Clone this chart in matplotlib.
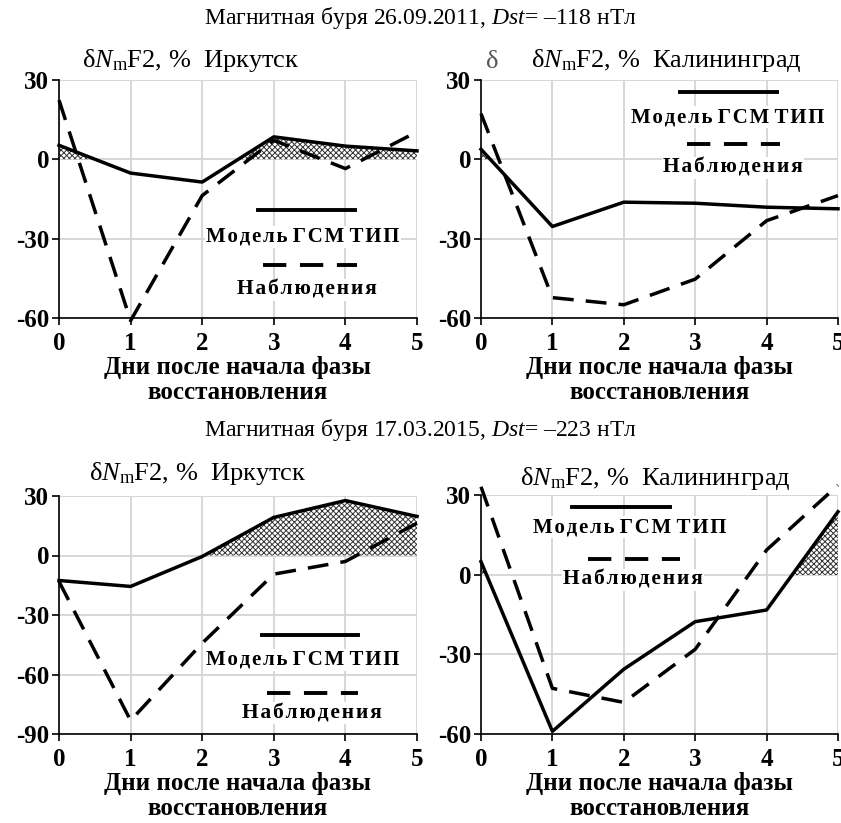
import matplotlib
matplotlib.use("Agg")
import matplotlib.pyplot as plt
import numpy as np
from matplotlib.lines import Line2D

plt.rcParams['font.family'] = ['Liberation Serif', 'DejaVu Serif']
plt.rcParams['mathtext.fontset'] = 'custom'
plt.rcParams['mathtext.rm'] = 'Liberation Serif'
plt.rcParams['mathtext.it'] = 'Liberation Serif:italic'
plt.rcParams['mathtext.bf'] = 'Liberation Serif:bold'
plt.rcParams['axes.unicode_minus'] = False
plt.rcParams['hatch.linewidth'] = 0.7
plt.rcParams['hatch.color'] = '#333333'

days = [0, 1, 2, 3, 4, 5]

# 26.09.2011
irk_2011_model = [5.3, -5.2, -8.6, 8.5, 5.0, 3.2]
irk_2011_obs = [22.4, -61.0, -13.7, 7.2, -3.5, 10.4]
kal_2011_model = [3.8, -25.4, -16.2, -16.6, -18.1, -18.7]
kal_2011_obs = [17.3, -52.3, -55.0, -45.3, -23.2, -13.7]
# 17.03.2015
irk_2015_model = [-12.6, -15.6, -0.5, 19.2, 27.7, 19.7]
irk_2015_obs = [-13.1, -83.2, -44.2, -9.4, -3.0, 16.3]
kal_2015_model = [4.9, -59.0, -35.6, -17.7, -13.3, 23.7]
kal_2015_obs = [33.1, -42.8, -48.1, -28.1, 9.3, 33.7]

W, H = 841, 823
fig = plt.figure(figsize=(W / 100, H / 100), dpi=100)

def fx(x):
    return x / W

def fy(y):
    return 1 - y / H

def spaced(s):
    hs = "\u200a"
    return " ".join(hs.join(list(w)) for w in s.split(" "))

station_title = r"δ$\mathit{N}_{\mathrm{m}}$F2, %  "
xlabel = "Дни после начала фазы\nвосстановления"
dash = (0, (6, 3.5))

panels = [
    dict(box=(59, 80, 417, 318), model=irk_2011_model, obs=irk_2011_obs,
         yt=[-60, -30, 0, 30], name="Иркутск", title_xy=(191, 61),
         leg=(258, 355, 210, 303, 237, 263, 357, 265, 307, 290)),
    dict(box=(481, 80, 838, 318), model=kal_2011_model, obs=kal_2011_obs,
         yt=[-60, -30, 0, 30], name="Калининград", title_xy=(666, 61),
         leg=(680, 777, 92, 728, 117, 687, 780, 144, 733, 168)),
    dict(box=(59, 496, 417, 734), model=irk_2015_model, obs=irk_2015_obs,
         yt=[-90, -60, -30, 0, 30], name="Иркутск", title_xy=(198, 474),
         leg=(262, 358, 635, 303, 660, 267, 358, 693, 312, 713)),
    dict(box=(481, 495, 838, 734), model=kal_2015_model, obs=kal_2015_obs,
         yt=[-60, -30, 0, 30], name="Калининград", title_xy=(655, 479),
         leg=(572, 670, 507, 630, 527, 588, 680, 559, 633, 580)),
]

for p in panels:
    x0, y0, x1, y1 = p['box']
    ax = fig.add_axes([fx(x0), fy(y1), fx(x1) - fx(x0), fy(y0) - fy(y1)])
    ax.set_xlim(0, 5)
    ax.set_ylim(p['yt'][0], p['yt'][-1])
    ax.set_xticks(days)
    ax.set_yticks(p['yt'])
    ax.grid(True, color='#d4d4d4', linewidth=1.3)
    ax.set_axisbelow(True)
    for s in ['top', 'right']:
        ax.spines[s].set_visible(False)
    for s in ['left', 'bottom']:
        ax.spines[s].set_linewidth(1.2)
    ax.tick_params(axis='both', direction='out', length=5, width=1.2,
                   labelsize=18)
    ax.tick_params(axis='x', pad=5)
    ax.tick_params(axis='y', pad=2)
    for lab in ax.get_xticklabels() + ax.get_yticklabels():
        lab.set_fontweight('bold')
    m = np.array(p['model'])
    o = np.array(p['obs'])
    xs = np.array(days, dtype=float)
    ax.fill_between(xs, 0, m, where=m > 0, interpolate=True,
                    facecolor='white', hatch='xxxxxx', edgecolor='#333333',
                    linewidth=0, zorder=2)
    ax.plot(xs, m, color='black', linewidth=2.5, zorder=3, clip_on=False)
    ax.plot(xs, o, color='black', linewidth=2.5, linestyle=dash,
            zorder=3, clip_on=False)
    ax.set_xlabel(xlabel, fontsize=18, fontweight='bold', labelpad=1,
                  linespacing=1.08)
    tx, ty = p['title_xy']
    fig.text(fx(tx), fy(ty), station_title + p['name'], fontsize=19,
             ha='center', va='center',
             bbox=dict(facecolor='white', edgecolor='none', pad=1))
    (lx0, lx1, ly, mtx, mty, dx0, dx1, dy, ntx, nty) = p['leg']
    fig.add_artist(Line2D([fx(lx0), fx(lx1)], [fy(ly), fy(ly)],
                          transform=fig.transFigure, color='black',
                          linewidth=2.8, zorder=5))
    fig.add_artist(Line2D([fx(dx0), fx(dx1)], [fy(dy), fy(dy)],
                          transform=fig.transFigure, color='black',
                          linewidth=2.8, linestyle=dash, zorder=5))
    fig.text(fx(mtx), fy(mty), spaced("Модель ГСМ ТИП"),
             fontsize=15, fontweight='bold', ha='center', va='center',
             bbox=dict(facecolor='white', edgecolor='none', pad=1), zorder=5)
    fig.text(fx(ntx), fy(nty), spaced("Наблюдения"), fontsize=15.5,
             fontweight='bold', ha='center', va='center',
             bbox=dict(facecolor='white', edgecolor='none', pad=1), zorder=5)

fig.text(fx(420), fy(18), r"Магнитная буря 26.09.2011, $\mathit{Dst}$= –118 нТл",
         fontsize=17, ha='center', va='center')
fig.text(fx(420), fy(430), r"Магнитная буря 17.03.2015, $\mathit{Dst}$= –223 нТл",
         fontsize=17, ha='center', va='center')
fig.text(fx(492), fy(62), "δ", fontsize=19, ha='center', va='center',
         color='#555555')

fig.savefig("out.png", dpi=100, facecolor='white')
